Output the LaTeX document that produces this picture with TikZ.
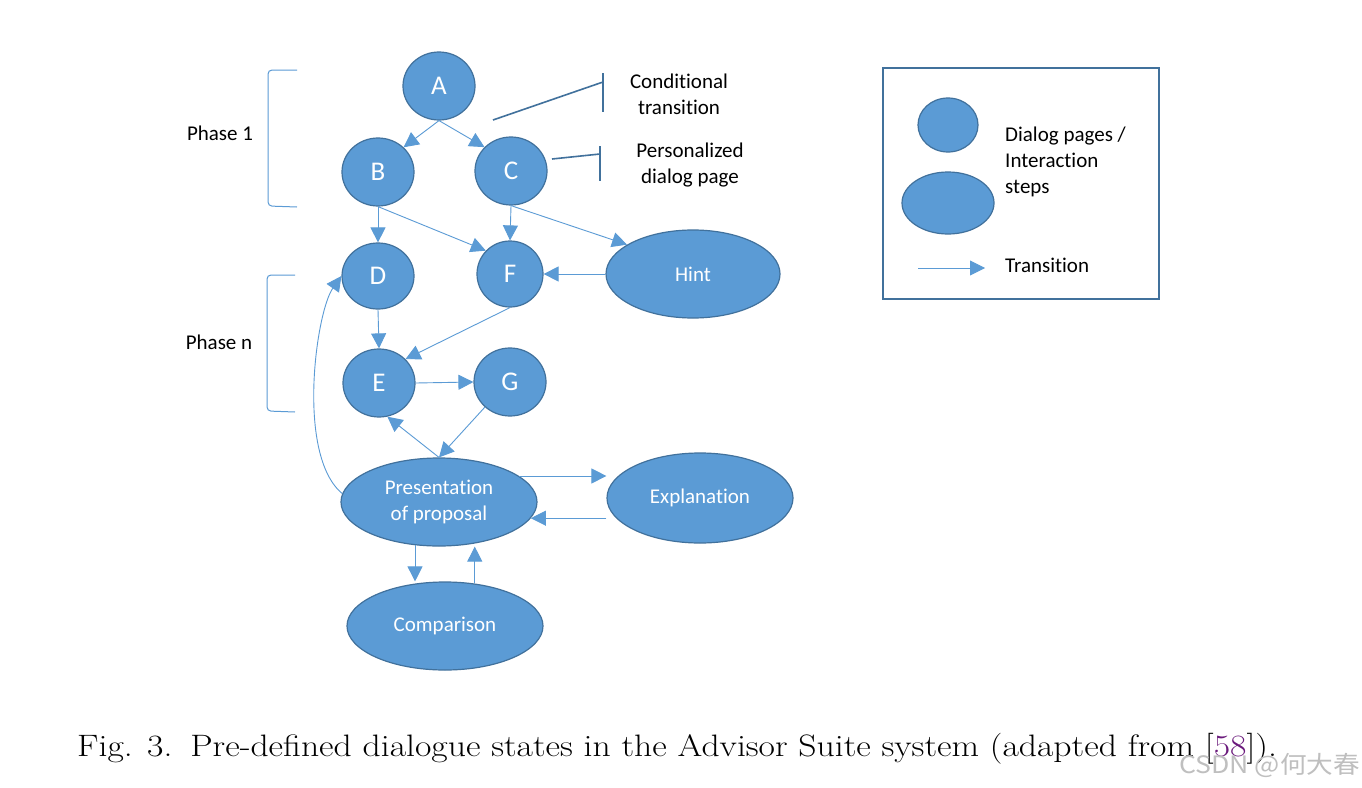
\documentclass[tikz,border=0pt]{standalone}
\usepackage{fontspec}
\setsansfont{Carlito}[Ligatures={NoCommon}]
\newfontfamily\cjkfont{Noto Sans CJK SC}
\usetikzlibrary{arrows.meta,shapes.geometric,calc}
\definecolor{nodefill}{HTML}{5B9BD5}
\definecolor{nodeline}{HTML}{41719C}
\definecolor{linkpurple}{HTML}{6B1A7C}

\begin{document}
\begin{tikzpicture}[x=1pt,y=-1pt,
  state/.style={ellipse, draw=nodeline, line width=1.2pt, fill=nodefill,
    inner sep=0pt, text=white, align=center,
    font=\sffamily\fontsize{21}{26}\selectfont},
  letter/.style={state, font=\sffamily\fontsize{27}{30}\selectfont},
  plainstate/.style={ellipse, draw=nodeline, line width=1.2pt, fill=nodefill, inner sep=0pt},
  edge/.style={draw=nodefill, line width=0.9pt, -{Triangle[length=15pt,width=15pt]}},
  bracket/.style={draw=nodefill, line width=1pt, rounded corners=4pt},
  callout/.style={draw=nodeline, line width=1.6pt},
  label/.style={inner sep=0pt, align=center, text=black,
    font=\sffamily\fontsize{21}{26}\selectfont},
]
\useasboundingbox (0,0) rectangle (1362,787);
\fill[white] (0,0) rectangle (1362,787);

% dialog pages
\node[letter, minimum width=72pt, minimum height=68pt] (A) at (439,86) {A};
\node[letter, minimum width=72pt, minimum height=68pt] (B) at (378,172) {B};
\node[letter, minimum width=72pt, minimum height=68pt] (C) at (511,171) {C};
\node[letter, minimum width=72pt, minimum height=66pt] (D) at (378,276) {D};
\node[letter, minimum width=66pt, minimum height=66pt] (F) at (510,274) {F};
\node[letter, minimum width=72pt, minimum height=68pt] (E) at (379,383) {E};
\node[letter, minimum width=72pt, minimum height=68pt] (G) at (510,382) {G};

% interaction steps
\node[state, minimum width=174pt, minimum height=88pt] (Hint) at (693,274) {Hint};
\node[state, minimum width=196pt, minimum height=88pt] (Pres) at (439,502) {Presentation\\of proposal};
\node[state, minimum width=186pt, minimum height=90pt] (Expl) at (700,498) {Explanation};
\node[state, minimum width=196pt, minimum height=88pt] (Comp) at (445,626) {Comparison};

% transitions
\draw[edge] (A.south) -- (B.44);
\draw[edge] (A.south) -- (C.138);
\draw[edge] (B.south) -- (D.north);
\draw[edge] (B.south) -- (F.136);
\draw[edge] (C.south) -- (F.north);
\draw[edge] (C.south) -- (Hint.156);
\draw[edge] (Hint.west) -- (F.east);
\draw[edge] (F.south) -- (E.42);
\draw[edge] (D.south) -- (E.north);
\draw[edge] (E.east) -- (G.west);
\draw[edge] (G.225) -- (Pres.north);
\draw[edge] (Pres.north) -- (E.284);
\draw[edge] (Pres.175) .. controls (296,455) and (316,312) .. (D.west);
\draw[edge] (Pres.18) -- (Pres.18 -| Expl.west);
\draw[edge] (Expl.west |- Pres.-10) -- (Pres.-10);
\draw[edge] (Pres.241) -- (Pres.241 |- Comp.north);
\draw[edge] (Comp.55) -- (Comp.55 |- Pres.south);

% phases
\node[label] (phase1) at (220,133) {Phase 1};
\node[label] (phasen) at (219,342) {Phase n};
\draw[bracket] (297,70) -- (268,70) -- (268,206) -- (297,207);
\draw[bracket] (295,275) -- (267,275) -- (267,411) -- (295,412);

% callouts
\node[label] (condtext) at (679,94) {Conditional\\transition};
\coordinate (cond1) at (493,120);
\coordinate (cond2) at (603,82);
\draw[callout] (cond1) -- (cond2);
\draw[callout] (603,73) -- (603,112);
\node[label] (perstext) at (690,165) {Personalized\\dialog page};
\coordinate (pers1) at (552,159);
\coordinate (pers2) at (600,154);
\draw[callout] (pers1) -- (pers2);
\draw[callout] (600,146) -- (600,181);

% legend
\node[draw=nodeline, line width=1.5pt, minimum width=276pt, minimum height=231pt, inner sep=0pt] (legend) at (1021,183.5) {};
\node[plainstate, minimum width=60pt, minimum height=54pt] (lgsmall) at (948,125) {};
\node[plainstate, minimum width=92pt, minimum height=62pt] (lglarge) at (948,203) {};
\node[label, anchor=west, align=left] (lgtext) at (1005,162) {Dialog pages /\\Interaction\\steps};
\coordinate (lgtr1) at (918,268);
\coordinate (lgtr2) at (985,268);
\draw[edge] (lgtr1) -- (lgtr2);
\node[label, anchor=west] (lgtrtext) at (1005,265) {Transition};

% caption
\node[anchor=base west, inner sep=0pt, font=\fontsize{31}{36}\selectfont] (caption) at (77,756)
  {\scalebox{1.15}[1]{Fig. 3.\enskip Pre-defined dialogue states in the Advisor Suite system (adapted from [\textcolor{linkpurple}{58}]).}};
\node[anchor=base west, inner sep=0pt, text=black!25, font=\cjkfont\fontsize{24}{28}\selectfont] (wm) at (1179,773)
  {\scalebox{1.11}[1]{CSDN @何大春}};
\end{tikzpicture}
\end{document}
